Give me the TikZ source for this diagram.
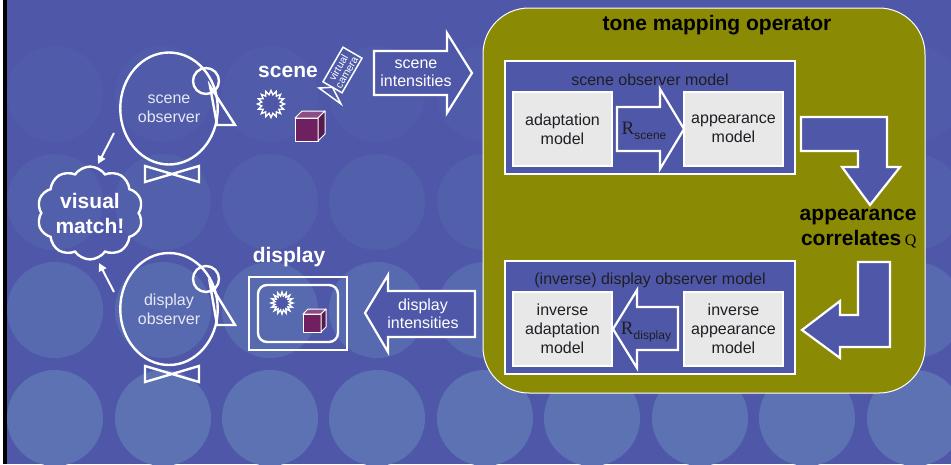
\documentclass[tikz,border=0pt]{standalone}
\usepackage{fontspec}
\setmainfont{Liberation Sans}
\newfontfamily\timesfont{Liberation Serif}
\usepackage{tikz}
\usetikzlibrary{shapes.geometric,shapes.symbols,arrows.meta}

\definecolor{bgblue}{HTML}{4F58A8}
\definecolor{circblue}{HTML}{5C72B2}
\definecolor{olive}{HTML}{8A8A04}
\definecolor{boxgray}{HTML}{E8E8E8}
\definecolor{darktext}{HTML}{1E1E24}
\definecolor{lighttext}{HTML}{E6E8F4}
\definecolor{cubefront}{HTML}{6E2060}
\definecolor{cubetop}{HTML}{8C4C84}
\definecolor{cubeside}{HTML}{561A4C}

\tikzset{
    observer/.style={ellipse, draw=white, line width=2.4pt, minimum width=96pt, minimum height=112pt,
        align=center, text=lighttext, font=\fontsize{16}{19}\selectfont},
    eye/.style={circle, draw=white, line width=2.4pt, minimum size=26pt, inner sep=0pt},
    outline/.style={draw=white, line width=2.4pt, line join=miter},
    blockarrow/.style={draw=white, line width=2.2pt, fill=bgblue, line join=miter},
    modelbox/.style={draw=white, line width=2.8pt, fill=bgblue},
    graybox/.style={draw=white, line width=2.4pt, fill=boxgray, minimum width=99pt, minimum height=74pt,
        inner sep=0pt, align=center, text=darktext, font=\fontsize{16}{19}\selectfont},
    boldlabel/.style={font=\bfseries\fontsize{21}{25}\selectfont},
    arrowtext/.style={align=center, text=white, font=\fontsize{16}{18}\selectfont},
    sun/.style={starburst, starburst points=16, starburst point height=4pt, random starburst=0,
        draw=white, line width=1.4pt, fill=bgblue, inner sep=0pt},
    cubeface/.style={draw=white, line width=1pt, line join=round},
    lookarrow/.style={draw=white, line width=2pt, -{Triangle[width=8pt,length=8pt]}},
}

% purple cube: front lower-left corner, edge, depth
\newcommand\purplecube[4]{%
    \filldraw[cubeface, fill=cubefront] (#1,#2) rectangle ++(#3,-#3);
    \filldraw[cubeface, fill=cubetop] (#1,#2-#3) -- ++(#4,-#4) -- ++(#3,0) -- ++(-#4,#4) -- cycle;
    \filldraw[cubeface, fill=cubeside] (#1+#3,#2) -- ++(#4,-#4) -- ++(0,-#3) -- ++(-#4,#4) -- cycle;
}

\begin{document}
\begin{tikzpicture}[x=1pt,y=-1pt]
    \useasboundingbox (0,0) rectangle (951,464);

    % backdrop
    \fill[bgblue] (0,0) rectangle (951,464);
    \foreach \y/\op in {94/0.12, 202/0.3, 310/0.7, 418/1}
    \foreach \x in {55,163,270,377,485,592,700,807,915}
    {
        \fill[circblue, opacity=\op] (\x,\y) circle[radius=48];
    }
    \fill[white] (0,0) rectangle (3,464);
    \fill[black] (3,0) rectangle (6.5,464);

    % tone mapping operator
    \draw[draw=white, line width=1pt, fill=olive, rounded corners=46pt] (483,8) rectangle (925,393);
    \node[boldlabel, text=black] (tmo) at (717,25) {tone mapping operator};

    % scene observer model
    \draw[modelbox] (505,61) rectangle (795,174);
    \node[text=darktext, font=\fontsize{16}{19}\selectfont] (som) at (650,80) {scene observer model};
    \node[graybox] (adapt) at (562.5,129) {adaptation\\model};
    \node[graybox] (appear) at (733.5,129) {appearance\\model};
    \draw[blockarrow] (617,107) -- (660,107) -- (660,89) -- (684,129) -- (660,169) -- (660,151) -- (617,151) -- cycle;
    \node[text=darktext] (rscene) at (644,131)
        {{\timesfont\fontsize{19}{19}\selectfont R}\raisebox{-5pt}{\fontsize{12}{12}\selectfont scene}};

    % appearance correlates
    \draw[blockarrow] (801,117) -- (887,117) -- (887,167) -- (900,167) -- (870,205) -- (842,167)
        -- (858,167) -- (858,151) -- (801,151) -- cycle;
    \node[boldlabel, text=black, align=right, anchor=east] (corr) at (920,229)
        {appearance\\correlates\,{\mdseries\timesfont\fontsize{16}{16}\selectfont Q}};
    \draw[blockarrow] (858,262) -- (890,262) -- (890,347) -- (840,347) -- (840,358) -- (802,330)
        -- (840,301) -- (840,315) -- (858,315) -- cycle;

    % display observer model
    \draw[modelbox] (505,261) rectangle (795,374);
    \node[text=darktext, font=\fontsize{16}{19}\selectfont] (dom) at (650,280) {(inverse) display observer model};
    \node[graybox] (iadapt) at (562.5,329) {inverse\\adaptation\\model};
    \node[graybox] (iappear) at (733.5,329) {inverse\\appearance\\model};
    \draw[blockarrow] (678,307) -- (637,307) -- (637,290) -- (613,329) -- (637,368) -- (637,350) -- (678,350) -- cycle;
    \node[text=darktext] (rdisp) at (646,332)
        {{\timesfont\fontsize{19}{19}\selectfont R}\raisebox{-5pt}{\fontsize{12}{12}\selectfont display}};

    % intensities
    \draw[blockarrow] (374,51) -- (447,51) -- (447,33) -- (472,73) -- (447,113) -- (447,95) -- (374,95) -- cycle;
    \node[arrowtext] (sint) at (416,73) {scene\\intensities};
    \draw[blockarrow] (475,291) -- (388,291) -- (388,275) -- (365,313) -- (388,352) -- (388,337) -- (475,337) -- cycle;
    \node[arrowtext] (dint) at (423,314) {display\\intensities};

    % scene
    \node[boldlabel, text=white] (scene) at (288,72) {scene};
    \node[sun, minimum size=27pt] (ssun) at (271,104) {};
    \purplecube{295}{141}{23}{7}
    % virtual camera, tilted 60 degrees
    \draw[draw=white, line width=1.5pt] (323,81.8) -- (343,47.2) -- (362,58.2) -- (342,92.8) -- cycle;
    \node[rotate=60, inner sep=0pt, align=center, text=white, font=\fontsize{10.5}{9.5}\selectfont]
        (cam) at (342.5,70) {virtual\\camera};
    \coordinate (lens) at (332.5,87.3);
    \draw[outline, line width=1.5pt] (lens) -- (319,88) -- (341,104) -- cycle;

    % display
    \node[boldlabel, text=white] (display) at (289,257) {display};
    \draw[outline] (249,277) rectangle (347,350);
    \draw[outline, rounded corners=9pt] (258,285) rectangle (338,342);
    \node[sun, minimum size=22pt] (dsun) at (282,303) {};
    \purplecube{303}{332}{18}{5}

    % observers
    \node[observer] (sobs) at (169,108.5) {scene\\observer};
    \node[eye] (seye) at (206,81) {};
    \draw[outline] (210,86) -- (235,125) -- (217,125) -- cycle;
    \draw[outline] (145,166) -- (199,182) -- (199,166) -- (145,182) -- cycle;

    \node[observer] (dobs) at (169,309) {display\\observer};
    \node[eye] (deye) at (206,279) {};
    \draw[outline] (210,284) -- (235,325) -- (217,325) -- cycle;
    \draw[outline] (145,366) -- (199,382) -- (199,366) -- (145,382) -- cycle;

    % visual match
    \node[cloud, cloud puffs=10, cloud puff arc=110, aspect=1.2, draw=white, line width=2.4pt,
        minimum width=96pt, minimum height=80pt, inner sep=0pt, align=center, text=white,
        font=\bfseries\fontsize{21}{25}\selectfont] (match) at (90,213) {visual\\match!};

    \coordinate (sfrom) at (114,133);
    \coordinate (sto) at (98,164);
    \coordinate (dfrom) at (114,292);
    \coordinate (dto) at (99,263);
    \draw[lookarrow] (sfrom) -- (sto);
    \draw[lookarrow] (dfrom) -- (dto);
\end{tikzpicture}
\end{document}
